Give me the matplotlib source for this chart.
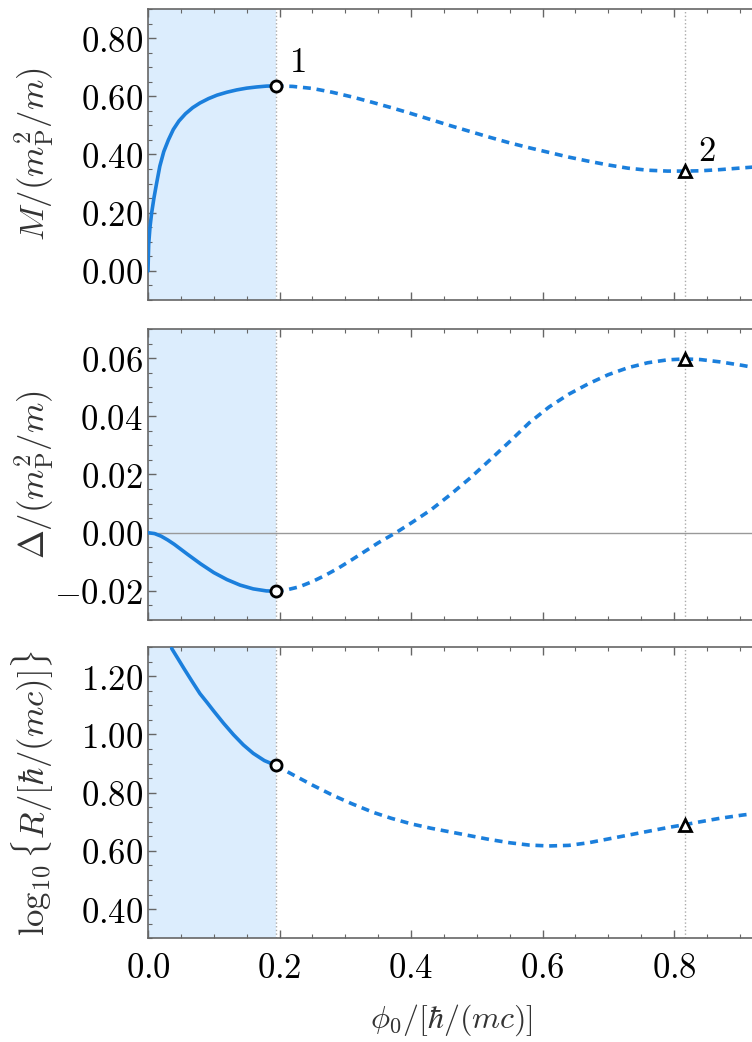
import numpy as np
import matplotlib
matplotlib.use('Agg')
import matplotlib.pyplot as plt
from matplotlib.ticker import MultipleLocator, AutoMinorLocator, FuncFormatter

plt.rcParams['mathtext.fontset'] = 'cm'
plt.rcParams['font.family'] = 'serif'
plt.rcParams['font.serif'] = ['DejaVu Serif']

# stability boundary / second turning point
phi_1 = 0.194
phi_2 = 0.816

# M / (m_P^2/m)
m_stable_x = [0.0, 0.001, 0.003, 0.0056, 0.009, 0.013, 0.018, 0.024, 0.031, 0.0385, 0.047,
              0.057, 0.068, 0.079, 0.092, 0.105, 0.12, 0.135, 0.15, 0.165, 0.18, 0.194]
m_stable_y = [0.0, 0.09, 0.15, 0.20, 0.25, 0.30, 0.36, 0.41, 0.45, 0.486, 0.515,
              0.540, 0.561, 0.577, 0.592, 0.604, 0.614, 0.622, 0.628, 0.632, 0.635, 0.636]
m_unstable_x = [0.194, 0.22, 0.25, 0.28, 0.31, 0.34, 0.37, 0.397, 0.43, 0.46, 0.49, 0.52,
                0.55, 0.58, 0.61, 0.64, 0.67, 0.70, 0.73, 0.76, 0.79, 0.816, 0.84, 0.87,
                0.904, 0.94]
m_unstable_y = [0.636, 0.634, 0.627, 0.614, 0.598, 0.580, 0.561, 0.543, 0.520, 0.499, 0.479,
                0.459, 0.440, 0.423, 0.407, 0.391, 0.377, 0.364, 0.353, 0.346, 0.343, 0.343,
                0.344, 0.348, 0.354, 0.360]

# Delta / (m_P^2/m)
d_stable_x = [0.0, 0.01, 0.02, 0.03, 0.04, 0.05, 0.06, 0.08, 0.10, 0.12, 0.14, 0.16, 0.18,
              0.194]
d_stable_y = [0.0, -0.0003, -0.0012, -0.0025, -0.0040, -0.0057, -0.0074, -0.0107, -0.0137,
              -0.0161, -0.0180, -0.0193, -0.0200, -0.0201]
d_unstable_x = [0.194, 0.21, 0.23, 0.25, 0.27, 0.29, 0.31, 0.33, 0.35, 0.377, 0.40, 0.43,
                0.46, 0.49, 0.52, 0.55, 0.58, 0.61, 0.64, 0.67, 0.70, 0.73, 0.76, 0.79,
                0.816, 0.84, 0.87, 0.904, 0.94]
d_unstable_y = [-0.0201, -0.0197, -0.0186, -0.0168, -0.0146, -0.0121, -0.0093, -0.0064,
                -0.0035, 0.0, 0.0033, 0.0078, 0.0131, 0.0188, 0.0250, 0.0313, 0.0378, 0.0432,
                0.0476, 0.0512, 0.0543, 0.0567, 0.0584, 0.0594, 0.0597, 0.0595, 0.0587,
                0.0575, 0.0560]

# log10 R
r_stable_x = [0.036, 0.045, 0.055, 0.067, 0.079, 0.09, 0.10, 0.115, 0.13, 0.145, 0.16,
              0.177, 0.194]
r_stable_y = [1.295, 1.262, 1.225, 1.182, 1.140, 1.109, 1.080, 1.038, 0.999, 0.964, 0.935,
              0.910, 0.894]
r_unstable_x = [0.194, 0.22, 0.25, 0.282, 0.31, 0.343, 0.37, 0.40, 0.43, 0.46, 0.49, 0.52,
                0.55, 0.58, 0.61, 0.64, 0.67, 0.70, 0.73, 0.76, 0.79, 0.816, 0.84, 0.87,
                0.904, 0.94]
r_unstable_y = [0.894, 0.862, 0.826, 0.790, 0.762, 0.732, 0.712, 0.693, 0.678, 0.665, 0.652,
                0.639, 0.628, 0.620, 0.617, 0.619, 0.628, 0.641, 0.654, 0.667, 0.680, 0.690,
                0.700, 0.712, 0.723, 0.733]

ylabels = [r'$M/(m_{\mathrm{P}}^2/m)$', r'$\Delta/(m_{\mathrm{P}}^2/m)$',
           r'$\log_{10}\{R/[\hbar/(mc)]\}$']
ylims = [(-0.1, 0.9), (-0.03, 0.07), (0.3, 1.3)]
ymajor = [0.2, 0.02, 0.2]

blue = '#1b7fdc'
shade = '#dcedfd'

fig = plt.figure(figsize=(7.52, 10.42), dpi=100)
W, H = 752.0, 1042.0
left = 148 / W
width = 657.5 / W
tops = [9, 329, 647]
bottoms = [300, 620, 938.3]

curves = [(m_stable_x, m_stable_y, m_unstable_x, m_unstable_y),
          (d_stable_x, d_stable_y, d_unstable_x, d_unstable_y),
          (r_stable_x, r_stable_y, r_unstable_x, r_unstable_y)]

yform = FuncFormatter(lambda v, p: '$%.2f$' % v)
# labels past the right edge of the picture are left out
xform = FuncFormatter(lambda v, p: '$%.1f$' % v if v < 0.9 else '')

axes = []
for i in range(3):
    ax = fig.add_axes([left, 1 - bottoms[i] / H, width, (bottoms[i] - tops[i]) / H])
    sx, sy, ux, uy = curves[i]
    ax.axvspan(0, phi_1, color=shade, zorder=0, lw=0)
    ax.axvline(phi_1, color='#aaaaaa', ls=':', lw=1.0, zorder=1)
    ax.axvline(phi_2, color='#aaaaaa', ls=':', lw=1.0, zorder=1)
    if i == 1:
        ax.axhline(0, color='#999999', lw=1.0, zorder=1)
    ax.plot(sx, sy, color=blue, lw=2.6, solid_capstyle='round', zorder=3)
    ax.plot(ux, uy, color=blue, lw=2.6, ls=(0, (2.2, 1.6)), zorder=3)
    # turning points
    ax.plot([sx[-1]], [sy[-1]], 'o', ms=8, mfc='white', mec='black', mew=2.0, zorder=5)
    j = ux.index(phi_2)
    ax.plot([phi_2], [uy[j]], '^', ms=8, mfc='white', mec='black', mew=2.0, zorder=5)

    ax.set_xlim(0, 1.0)
    ax.set_ylim(*ylims[i])
    ax.xaxis.set_major_locator(MultipleLocator(0.2))
    ax.xaxis.set_minor_locator(AutoMinorLocator(4))
    ax.yaxis.set_major_locator(MultipleLocator(ymajor[i]))
    ax.yaxis.set_minor_locator(AutoMinorLocator(4))
    ax.yaxis.set_major_formatter(yform)
    ax.xaxis.set_major_formatter(xform)
    ax.tick_params(which='both', direction='in', top=True, right=True, color='#666666',
                   labelsize=25)
    ax.tick_params(axis='x', pad=9)
    ax.tick_params(which='major', length=6, width=1.0)
    ax.tick_params(which='minor', length=3, width=0.8)
    if i < 2:
        ax.tick_params(labelbottom=False)
    for s in ax.spines.values():
        s.set_color('#666666')
        s.set_linewidth(1.2)
    ax.set_ylabel(ylabels[i], fontsize=25, color='#333333')
    ax.yaxis.set_label_coords(-0.14, 0.5)
    axes.append(ax)

axes[0].text(0.215, 0.66, r'$\mathbf{1}$', fontsize=25, ha='left', va='bottom')
axes[0].text(0.837, 0.355, r'$\mathbf{2}$', fontsize=25, ha='left', va='bottom')

fig.text(451.7 / W, 1 - 1020 / H, r'$\phi_0/[\hbar/(mc)]$', fontsize=23,
         ha='center', va='center', color='#333333')

fig.savefig('out.png', dpi=100)
